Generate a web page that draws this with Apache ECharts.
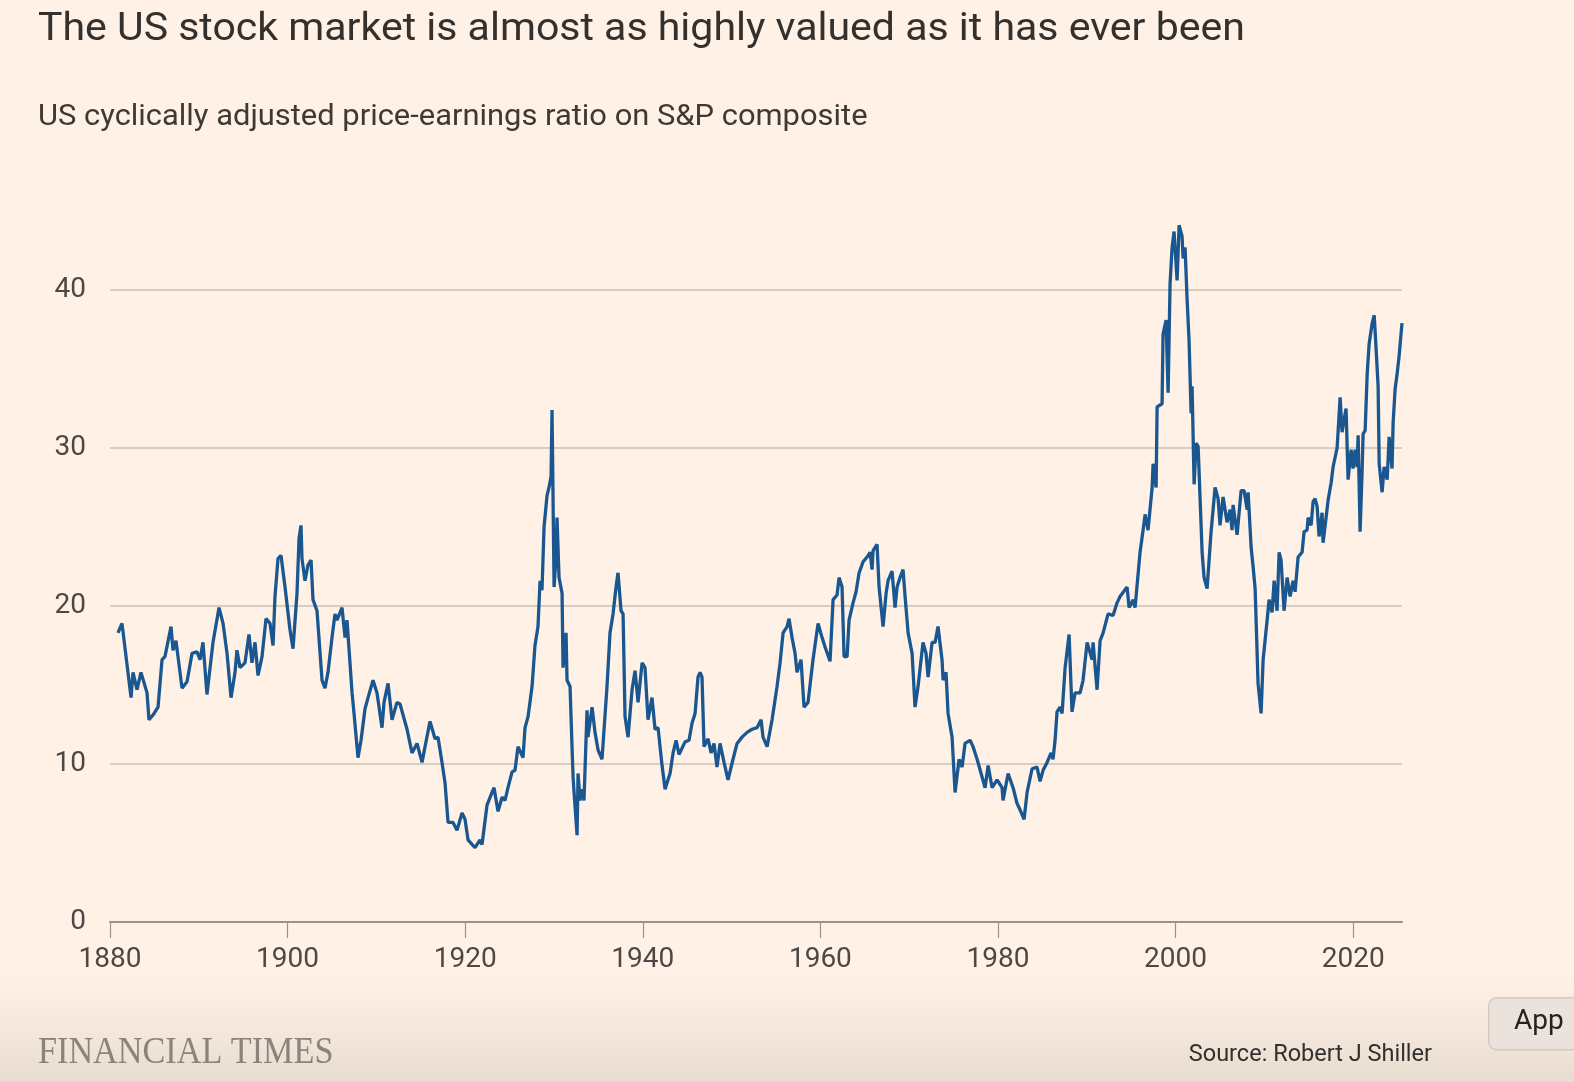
<!DOCTYPE html>
<html>
<head>
<meta charset="utf-8">
<script src="https://cdn.jsdelivr.net/npm/echarts@6/dist/echarts.min.js"></script>
<style>
html,body{margin:0;padding:0;background:#FFF1E5;}
#c{width:1574px;height:1082px;}
</style>
</head>
<body>
<div id="c"></div>
<script>
const titleText = "The US stock market is almost as highly valued as it has ever been";
const subtitleText = "US cyclically adjusted price-earnings ratio on S&P composite";
const sourceText = "Source: Robert J Shiller";
const xTickValues = [1880, 1900, 1920, 1940, 1960, 1980, 2000, 2020];
const yTickValues = [0, 10, 20, 30, 40];

const years = [
1880.90,1881.35,1882.37,1882.59,1883.04,1883.49,1884.17,1884.39,1884.84,1885.41,
1885.86,1886.19,1886.87,1887.10,1887.43,1888.11,1888.67,1889.24,1889.80,1890.14,
1890.47,1890.92,1891.60,1892.28,1892.73,1893.18,1893.63,1894.08,1894.30,1894.64,
1895.20,1895.65,1895.99,1896.33,1896.67,1897.12,1897.57,1898.02,1898.36,1898.58,
1898.92,1899.26,1899.71,1900.27,1900.61,1901.06,1901.29,1901.51,1901.62,1901.96,
1902.30,1902.64,1902.86,1903.31,1903.88,1904.21,1904.55,1905.00,1905.34,1905.57,
1906.13,1906.47,1906.69,1907.26,1907.48,1907.93,1908.27,1908.72,1909.06,1909.62,
1910.07,1910.63,1910.86,1911.31,1911.76,1912.32,1912.66,1913.45,1914.01,1914.58,
1915.14,1915.48,1916.04,1916.60,1916.94,1917.39,1917.73,1918.07,1918.63,1919.08,
1919.64,1919.98,1920.32,1921.11,1921.67,1921.90,1922.46,1923.02,1923.25,1923.70,
1924.15,1924.49,1924.82,1925.28,1925.61,1925.95,1926.51,1926.74,1927.08,1927.53,
1927.86,1928.20,1928.43,1928.65,1928.88,1929.22,1929.44,1929.67,1929.78,1930.01,
1930.23,1930.34,1930.57,1930.91,1931.02,1931.36,1931.47,1931.81,1932.03,1932.15,
1932.26,1932.60,1932.71,1932.93,1933.16,1933.38,1933.72,1933.83,1934.29,1934.62,
1934.96,1935.41,1935.97,1936.31,1936.65,1936.99,1937.21,1937.55,1937.78,1938.00,
1938.34,1938.79,1939.13,1939.47,1939.92,1940.25,1940.59,1941.04,1941.38,1941.72,
1942.17,1942.51,1942.84,1943.07,1943.41,1943.75,1944.08,1944.76,1945.21,1945.55,
1945.89,1946.22,1946.45,1946.67,1946.90,1947.35,1947.69,1948.02,1948.36,1948.70,
1949.15,1949.60,1950.16,1950.62,1951.18,1951.74,1952.31,1952.87,1953.32,1953.54,
1954.00,1954.56,1955.12,1955.46,1955.80,1956.25,1956.47,1956.81,1957.15,1957.37,
1957.82,1958.16,1958.61,1959.17,1959.74,1960.19,1960.53,1961.09,1961.43,1961.88,
1962.10,1962.44,1962.67,1963.01,1963.23,1963.68,1964.02,1964.36,1964.81,1965.26,
1965.60,1965.82,1965.93,1966.38,1966.61,1967.06,1967.40,1967.62,1968.07,1968.41,
1968.64,1968.97,1969.31,1969.54,1969.88,1970.33,1970.66,1971.00,1971.56,1971.90,
1972.13,1972.58,1972.92,1973.25,1973.70,1973.82,1974.15,1974.38,1974.83,1975.17,
1975.62,1975.96,1976.29,1976.86,1977.19,1977.65,1978.55,1978.89,1979.34,1979.90,
1980.46,1980.57,1981.14,1981.70,1982.15,1982.49,1982.94,1983.28,1983.84,1984.40,
1984.74,1985.08,1985.53,1985.98,1986.20,1986.43,1986.65,1986.99,1987.22,1987.56,
1987.78,1988.01,1988.34,1988.68,1989.25,1989.58,1990.04,1990.60,1990.71,1991.16,
1991.50,1991.84,1992.40,1992.96,1993.41,1993.75,1994.54,1994.77,1995.22,1995.44,
1996.00,1996.34,1996.57,1996.90,1997.36,1997.47,1997.81,1997.92,1998.48,1998.59,
1998.93,1999.16,1999.38,1999.61,1999.83,2000.17,2000.40,2000.73,2000.85,2001.07,
2001.30,2001.52,2001.75,2001.86,2002.09,2002.31,2002.54,2002.99,2003.21,2003.55,
2004.00,2004.45,2004.79,2005.01,2005.35,2005.80,2006.14,2006.36,2006.48,2006.93,
2007.38,2007.72,2008.06,2008.17,2008.51,2008.73,2008.96,2009.29,2009.63,2009.86,
2010.31,2010.53,2010.87,2011.10,2011.43,2011.66,2011.88,2012.22,2012.56,2012.90,
2013.23,2013.46,2013.80,2014.25,2014.47,2014.81,2014.93,2015.26,2015.49,2015.71,
2015.94,2016.16,2016.50,2016.61,2016.95,2017.18,2017.52,2017.74,2018.19,2018.31,
2018.53,2018.75,2018.98,2019.20,2019.43,2019.77,2019.99,2020.22,2020.44,2020.56,
2020.78,2021.01,2021.12,2021.35,2021.58,2021.80,2022.14,2022.37,2022.59,2022.81,
2022.93,2023.26,2023.49,2023.83,2024.05,2024.38,2024.50,2024.72,2024.95,2025.17,
2025.50
];

const cape = [
18.3,18.9,14.2,15.8,14.7,15.8,14.5,12.8,13.1,13.6,
16.6,16.8,18.7,17.2,17.8,14.8,15.2,17.0,17.1,16.6,
17.7,14.4,17.7,19.9,18.9,17.0,14.2,15.8,17.2,16.1,
16.4,18.2,16.4,17.7,15.6,16.8,19.2,18.9,17.5,20.6,
23.0,23.2,21.2,18.5,17.3,20.8,24.3,25.1,23.0,21.6,
22.6,22.9,20.4,19.7,15.3,14.8,15.8,18.0,19.5,19.1,
19.9,18.0,19.1,14.5,13.2,10.4,11.5,13.5,14.2,15.3,
14.5,12.3,13.9,15.1,12.8,13.9,13.8,12.2,10.7,11.3,
10.1,11.1,12.7,11.6,11.7,10.1,8.8,6.3,6.3,5.8,
6.9,6.5,5.2,4.7,5.2,4.9,7.4,8.2,8.5,7.0,
7.9,7.7,8.5,9.5,9.6,11.1,10.4,12.3,13.0,14.9,
17.5,18.7,21.6,21.0,25.0,27.0,27.5,28.2,32.4,21.2,
23.1,25.6,21.8,20.8,16.1,18.3,15.3,14.9,11.1,9.2,
8.2,5.5,9.4,7.7,8.4,7.7,13.4,11.7,13.6,12.0,
10.9,10.3,14.9,18.3,19.5,21.2,22.1,19.7,19.5,13.0,
11.7,14.7,15.9,13.9,16.4,16.1,12.8,14.2,12.2,12.3,
9.9,8.4,9.0,9.4,10.7,11.5,10.6,11.4,11.5,12.6,
13.2,15.5,15.8,15.5,11.1,11.6,10.7,11.3,9.8,11.3,
10.1,9.0,10.3,11.3,11.7,12.0,12.2,12.3,12.8,11.7,
11.1,12.8,14.9,16.4,18.3,18.7,19.2,18.0,17.0,15.8,
16.6,13.6,13.9,16.6,18.9,18.0,17.4,16.5,20.4,20.7,
21.8,21.2,16.8,16.8,19.1,20.2,20.9,22.1,22.8,23.1,
23.4,22.3,23.5,23.9,21.2,18.7,20.8,21.6,22.2,19.9,
21.2,21.8,22.3,20.6,18.3,17.0,13.6,14.9,17.7,17.0,
15.5,17.7,17.7,18.7,16.6,15.3,15.8,13.2,11.7,8.2,
10.3,9.8,11.3,11.5,11.1,10.3,8.5,9.9,8.5,9.0,
8.5,7.7,9.4,8.5,7.5,7.1,6.5,8.2,9.7,9.8,
8.9,9.6,10.1,10.7,10.3,11.5,13.3,13.6,13.2,16.1,
16.1,18.2,13.3,14.5,14.5,15.3,17.7,16.6,17.7,14.7,
17.8,18.3,19.5,19.4,20.2,20.6,21.2,19.9,20.4,19.9,
23.4,24.8,25.8,24.8,27.5,29.0,27.5,32.6,32.8,37.2,
38.1,33.5,40.4,42.7,43.7,40.6,44.1,43.4,42.0,42.7,
39.4,36.8,32.2,33.9,27.7,30.3,30.1,23.4,21.8,21.1,
24.7,27.5,26.8,25.1,26.9,25.3,26.1,24.8,26.4,24.5,
27.3,27.3,26.1,27.2,23.7,22.5,21.1,15.1,13.2,16.6,
19.1,20.4,19.6,21.6,19.7,23.4,22.9,19.7,21.8,20.6,
21.6,20.9,23.1,23.4,24.7,24.8,25.6,25.1,26.6,26.8,
26.3,24.4,25.9,24.0,25.6,26.7,27.8,28.8,30.0,31.1,
33.2,31.0,31.8,32.5,28.0,29.9,28.7,29.9,28.8,30.8,
24.7,28.6,30.9,31.1,34.7,36.6,37.9,38.4,36.2,33.9,
29.0,27.2,28.8,28.0,30.7,28.7,31.6,33.7,34.7,35.8,
37.9
];

const seriesData = years.map((y, i) => [y, cape[i]]);

const chart = echarts.init(document.getElementById('c'), null, {renderer: 'canvas'});
const FONT = 'Roboto, "Noto Sans", sans-serif';

chart.setOption({
  backgroundColor: '#FFF1E5',
  animation: false,
  grid: {left: 110, right: 172, top: 290, bottom: 160, containLabel: false},
  xAxis: {
    type: 'value',
    min: 1880,
    max: 2025.5,
    interval: 20,
    axisLine: {show: true, lineStyle: {color: '#9b928a', width: 2}},
    axisTick: {show: true, length: 16, lineStyle: {color: '#9b928a', width: 1.2}, customValues: xTickValues},
    axisLabel: {customValues: xTickValues, formatter: v => String(v), color: '#4d4845', fontSize: 28, fontFamily: FONT, margin: 24},
    splitLine: {show: false}
  },
  yAxis: {
    type: 'value',
    min: 0,
    max: 40,
    interval: 10,
    axisLine: {show: false},
    axisTick: {show: false},
    axisLabel: {formatter: v => String(v), color: '#4d4845', fontSize: 28, fontFamily: FONT, margin: 24},
    splitLine: {show: true, lineStyle: {color: '#cdbfb3', width: 1.5}}
  },
  series: [{
    type: 'line',
    data: seriesData,
    showSymbol: false,
    clip: false,
    lineStyle: {color: '#1a5791', width: 3.3},
    z: 3
  }],
  graphic: [
    {type: 'rect', left: 0, top: 975, shape: {width: 1574, height: 107}, silent: true, z: -1,
     style: {fill: new echarts.graphic.LinearGradient(0, 0, 0, 1, [{offset: 0, color: 'rgba(235,222,210,0)'}, {offset: 1, color: 'rgba(232,220,208,1)'}])}},
    {type: 'text', x: 38, y: 11, scaleX: 1.08, style: {text: titleText, font: '38px ' + FONT, fill: '#33302e'}},
    {type: 'text', x: 38, y: 102, scaleX: 1.03, style: {text: subtitleText, font: '30px ' + FONT, fill: '#3d3935'}},
    {type: 'text', x: 38, y: 1034, scaleX: 0.9, style: {text: 'FINANCIAL TIMES', font: '38px "Liberation Serif", "DejaVu Serif", serif', fill: '#8c837c'}},
    {type: 'text', right: 142, top: 1043, style: {text: sourceText, font: '23.5px ' + FONT, fill: '#33302e'}},
    {type: 'rect', left: 1488, top: 997, shape: {width: 100, height: 52, r: 8}, style: {fill: '#ebe3db', stroke: '#d3cac1', lineWidth: 1.5}},
    {type: 'text', left: 1514, top: 1008, style: {text: 'App', font: '28px ' + FONT, fill: '#222'}}
  ]
});
</script>
</body>
</html>
